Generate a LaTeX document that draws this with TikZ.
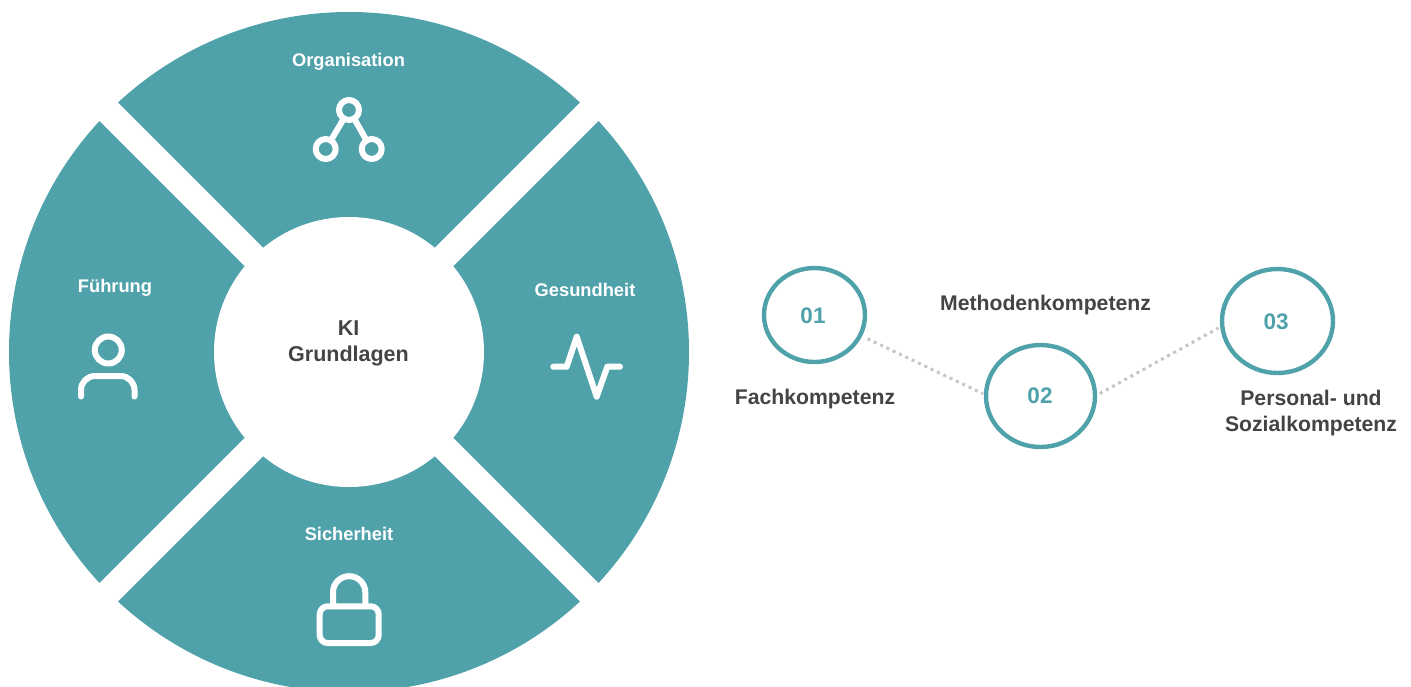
\documentclass[tikz,border=0pt]{standalone}
\usepackage{fontspec}
\setmainfont{Liberation Sans}
\usetikzlibrary{shapes.geometric}
\definecolor{teal1}{HTML}{50A2AA}
\definecolor{dark1}{HTML}{444444}
\definecolor{dots1}{HTML}{C6C6C6}
\tikzset{
  seglabel/.style={text=white,font=\fontsize{18.3}{22}\selectfont\bfseries,inner sep=0pt},
  sidelabel/.style={text=dark1,font=\fontsize{21.2}{26}\selectfont\bfseries,inner sep=0pt,align=center},
  ring/.style={ellipse,draw=teal1,line width=4.4pt,text=teal1,inner sep=0pt,outer sep=2.2pt},
  ringnum/.style={text=teal1,font=\fontsize{22.5}{26}\selectfont\bfseries,inner sep=0pt},
  icon/.style={draw=white,line width=6pt,line cap=round,line join=round},
  dotline/.style={draw=dots1,line width=3pt,dash pattern=on 3pt off 4pt}
}
\begin{document}
\begin{tikzpicture}[x=1pt,y=-1pt]
\useasboundingbox (0,0) rectangle (1411,686);
\fill[white] (0,0) rectangle (1411,686);
\begin{scope}
\clip (0,0) rectangle (1411,686);
\fill[teal1] (349,352) circle[radius=340];
\draw[white,line width=26pt] (100,103) -- (598,601);
\draw[white,line width=26pt] (598,103) -- (100,601);
\fill[white] (349,352) circle[radius=135];
\end{scope}
\node[seglabel] (org) at (348.5,62) {Organisation};
\node[seglabel] (fue) at (115,288) {Führung};
\node[seglabel] (ges) at (585,290) {Gesundheit};
\node[seglabel] (sic) at (349,534) {Sicherheit};
\node[sidelabel,font=\fontsize{21.5}{26}\selectfont\bfseries] (ki) at (348.5,343) {KI\\Grundlagen};
% Organisation icon
\draw[icon] (349,110) circle[radius=10];
\draw[icon] (325.7,149) circle[radius=10];
\draw[icon] (371.7,149) circle[radius=10];
\draw[icon,line cap=butt] (344.2,118) -- (330.5,141);
\draw[icon,line cap=butt] (353.8,118) -- (366.9,141);
% Fuehrung icon
\draw[icon] (108.3,350) circle[radius=13.5];
\draw[icon] (81,396.5) -- (81,390) arc[start angle=180,end angle=270,radius=14] -- (120.5,376) arc[start angle=270,end angle=360,radius=14] -- (134.5,396.5);
% Gesundheit icon
\draw[icon] (553.3,366.7) -- (566.7,366.7) -- (576.7,336.7) -- (596.7,396.7) -- (607.3,366.7) -- (620,366.7);
% Sicherheit icon
\draw[icon,rounded corners=8pt] (319.7,606.3) rectangle (378.7,643);
\draw[icon,line cap=butt] (333,606.3) -- (333,592.3) arc[start angle=180,end angle=360,radius=16.15] -- (365.3,606.3);
% Right part
\node[ring,minimum width=101pt,minimum height=94pt] (n1) at (814.5,315) {};
\node[ring,minimum width=109pt,minimum height=102pt] (n2) at (1040.5,396) {};
\node[ring,minimum width=111pt,minimum height=104pt] (n3) at (1277.5,321) {};
\node[ringnum] (t1) at (813,316) {01};
\node[ringnum] (t2) at (1040,396) {02};
\node[ringnum] (t3) at (1276,322) {03};
\draw[dotline,shorten <=6pt,shorten >=1pt] (n1.-24) -- (n2.178);
\draw[dotline,shorten <=3pt,shorten >=2pt] (n2.1) -- (n3.186);
\node[sidelabel] (fach) at (815,399.5) {Fachkompetenz};
\node[sidelabel] (meth) at (1045.5,305) {Methodenkompetenz};
\node[sidelabel] (pers) at (1311,413) {Personal- und\\Sozialkompetenz};
\end{tikzpicture}
\end{document}
